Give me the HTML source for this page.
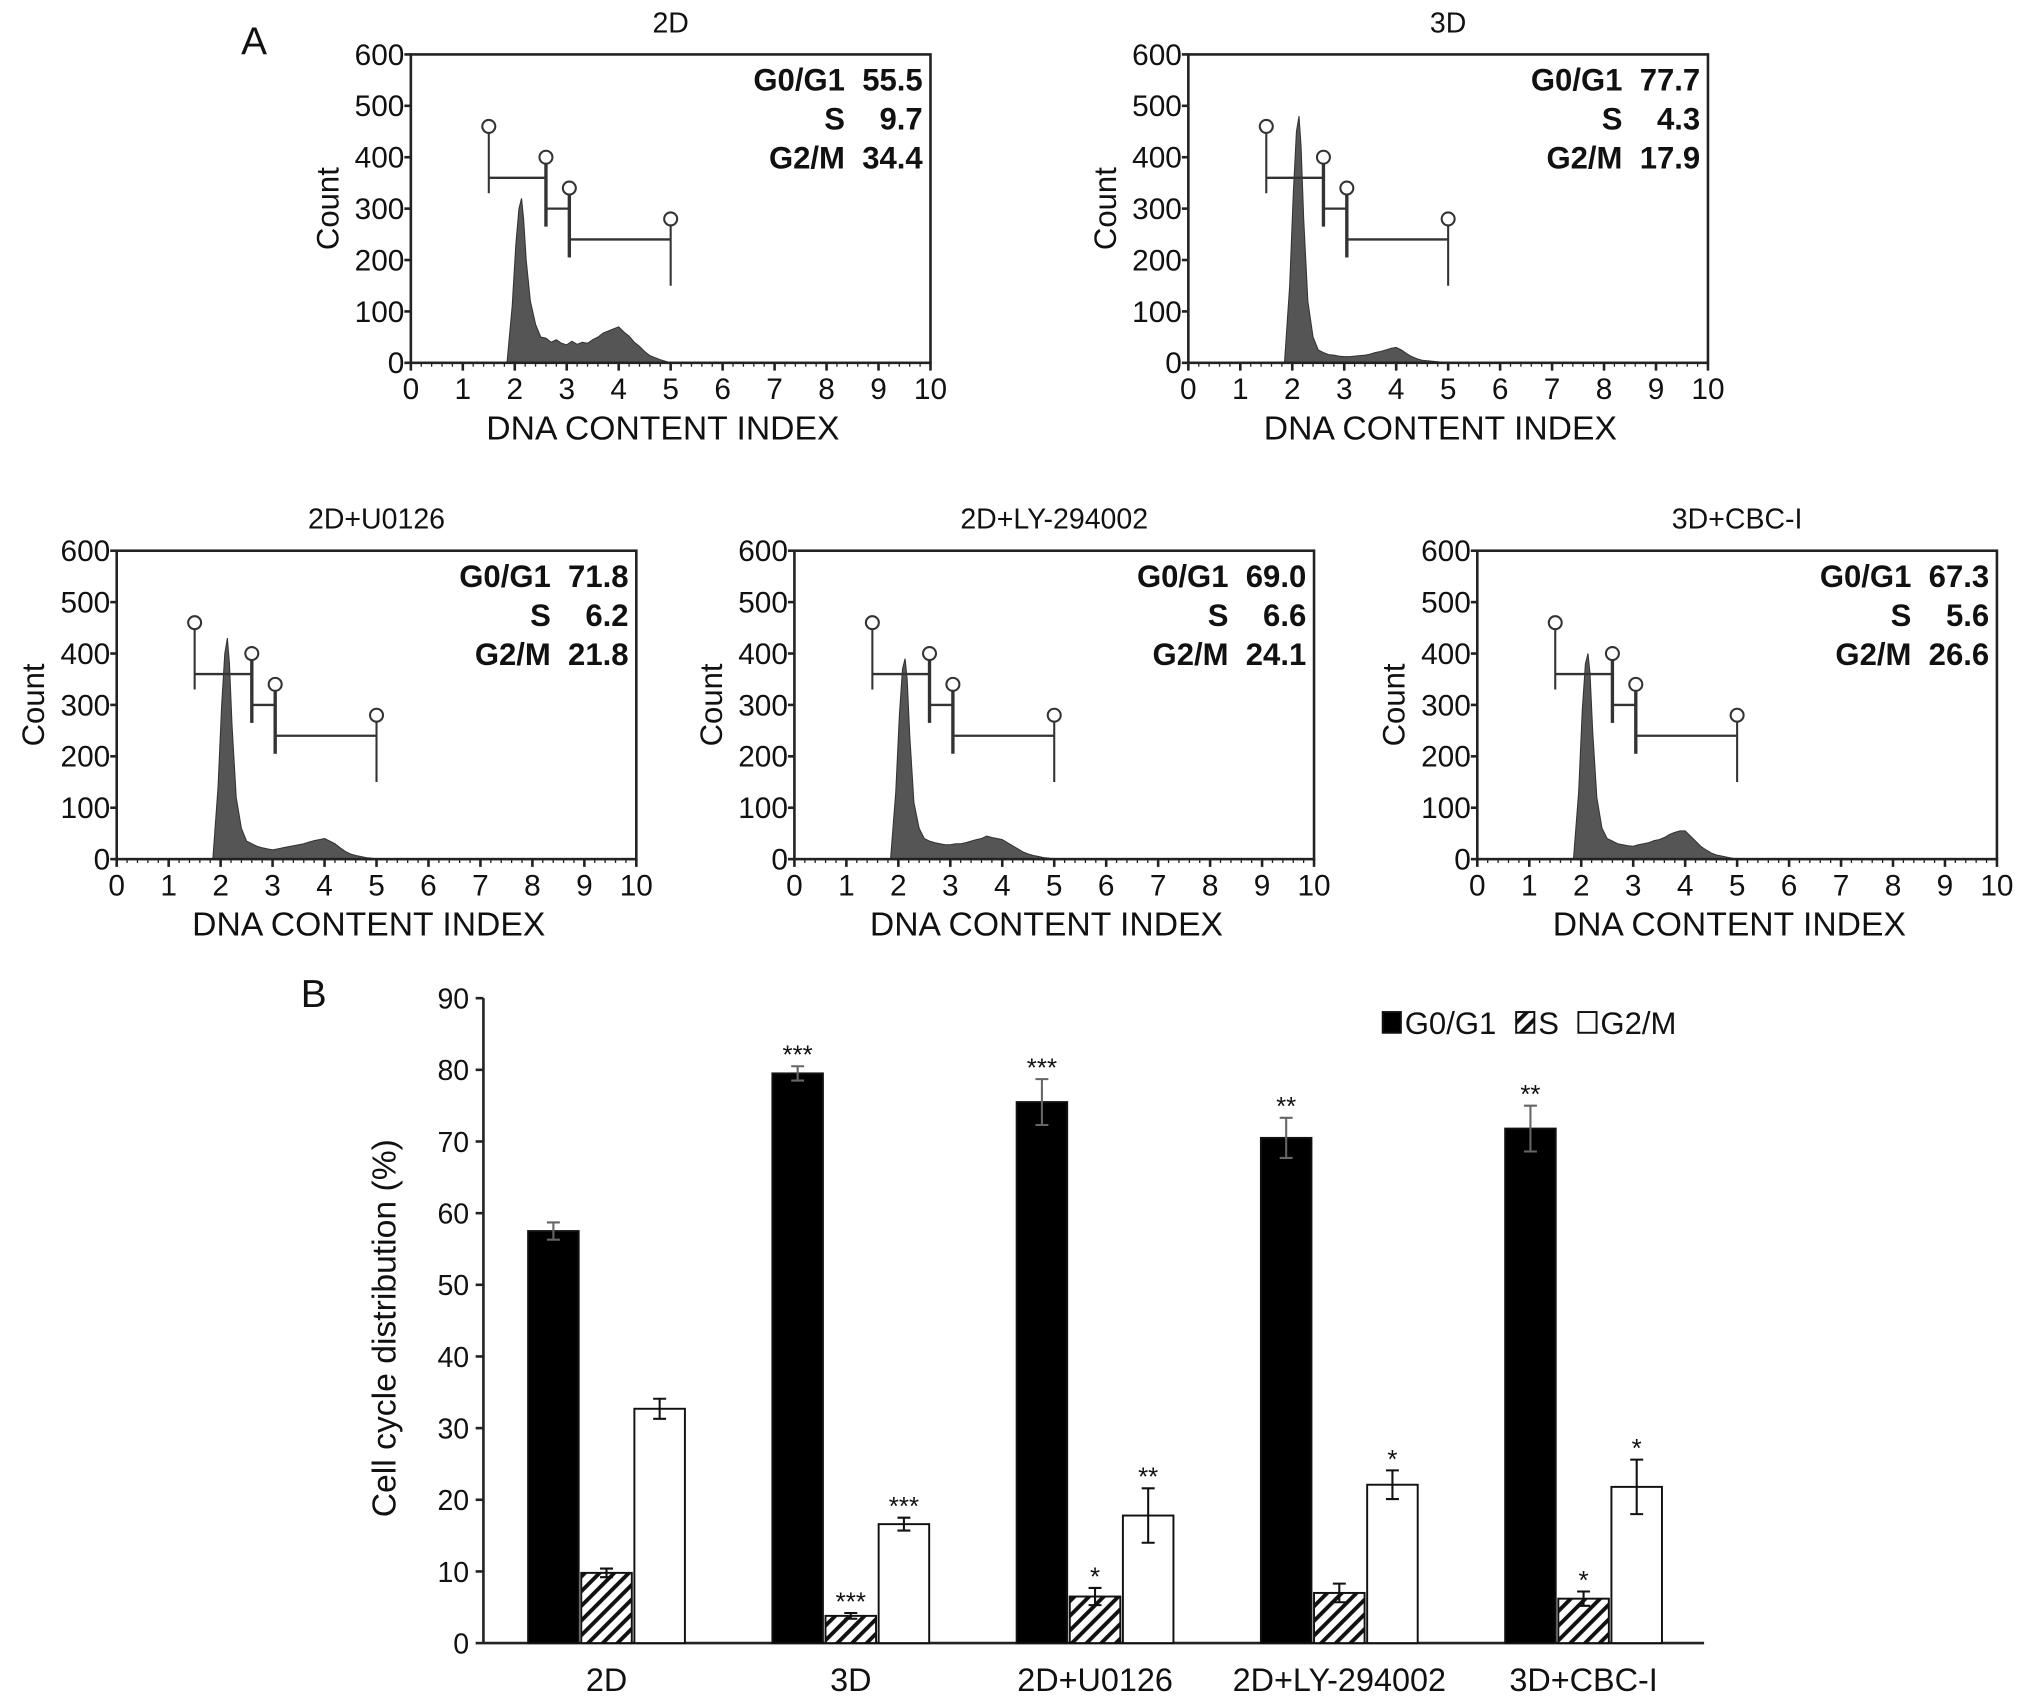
<!DOCTYPE html>
<html><head><meta charset="utf-8"><style>
html,body{margin:0;padding:0;background:#fff}
svg{display:block}
text{font-family:"Liberation Sans",Arial,sans-serif;fill:#111}
</style></head><body>
<svg id="fig" width="2032" height="1704" viewBox="0 0 1568 1315" xmlns="http://www.w3.org/2000/svg">
<defs><pattern id="hatch" patternUnits="userSpaceOnUse" width="8" height="8" patternTransform="rotate(45)"><rect width="8" height="8" fill="#fff"/><rect width="3" height="8" fill="#111"/></pattern></defs>
<text x="186" y="42" font-size="30">A</text>
<text x="232" y="777" font-size="30">B</text>
<g id="hists"></g>
<g id="bars"></g>
</svg>
<script>
const NS='http://www.w3.org/2000/svg';
function mk(tag,attrs,parent,txt){const e=document.createElementNS(NS,tag);for(const k in attrs)e.setAttribute(k,attrs[k]);if(txt!==undefined)e.textContent=txt;parent.appendChild(e);return e;}

// ---------- Panel A data ----------
const panelTitles=['2D','3D','2D+U0126','2D+LY-294002','3D+CBC-I'];
const g0Pct=['55.5','77.7','71.8','69.0','67.3'];
const sPct=['9.7','4.3','6.2','6.6','5.6'];
const g2Pct=['34.4','17.9','21.8','24.1','26.6'];
const histX=[1.85,1.95,2.02,2.08,2.13,2.17,2.22,2.3,2.4,2.5,2.6,2.7,2.8,2.9,3.0,3.1,3.2,3.3,3.4,3.5,3.6,3.7,3.8,3.9,4.0,4.1,4.2,4.3,4.4,4.5,4.6,4.7,4.8,4.9,5.0];
const hist2D=[0,110,230,300,320,280,200,120,75,50,48,40,45,38,35,42,36,40,38,45,50,58,62,66,70,60,52,40,32,22,14,10,6,3,0];
const hist3D=[0,150,330,450,480,420,280,120,50,25,20,16,15,13,12,12,13,14,15,17,20,22,25,28,30,25,18,12,8,5,4,3,2,1,0];
const histU=[0,140,300,400,430,380,260,120,60,35,30,25,22,20,18,20,22,24,26,28,30,33,36,38,40,35,30,22,15,10,7,5,3,2,0];
const histLY=[0,130,280,370,390,350,240,110,60,40,35,32,30,28,28,30,30,32,35,38,40,45,42,40,38,32,26,20,14,10,7,5,3,2,0];
const histCBC=[0,130,290,380,400,360,250,120,60,40,35,30,28,26,25,28,30,32,36,38,42,48,52,55,55,45,35,25,18,12,8,6,4,2,0];
const histSeries=[hist2D,hist3D,histU,histLY,histCBC];
const gateX=[1.5,2.6,3.05,5.0];
const gateTop=[460,400,340,280];
const gateBottom=[330,265,205,150];
const gateBar=[360,300,240];
const yTicksA=[0,100,200,300,400,500,600];
const xTicksA=[0,1,2,3,4,5,6,7,8,9,10];

const frames=[{l:317,t:42},{l:917,t:42},{l:90,t:425},{l:613,t:425},{l:1140,t:425}];
const FW=401,FH=238;
const hg=document.getElementById('hists');
frames.forEach((f,i)=>{
  const g=mk('g',{},hg);
  
  
  const sx=v=>f.l+v/10*FW, sy=v=>f.t+FH-v/600*FH;
  const tt=mk('text',{x:f.l+FW/2,y:f.t-17,'font-size':22,'text-anchor':'middle'},g,panelTitles[i]);
  
  let d='M'+sx(histX[0])+','+sy(0);
  histX.forEach((x,j)=>{d+=' L'+sx(x)+','+sy(histSeries[i][j]);});
  d+=' L'+sx(histX[histX.length-1])+','+sy(0)+'Z';
  const p=mk('path',{d:d,fill:'#555',stroke:'#333','stroke-width':0.8},g);
  
  const fr=mk('rect',{x:f.l,y:f.t,width:FW,height:FH,fill:'none',stroke:'#222','stroke-width':2},g);
  
  yTicksA.forEach(v=>{
    mk('line',{x1:f.l-5,x2:f.l,y1:sy(v),y2:sy(v),stroke:'#222','stroke-width':2},g);
    const t=mk('text',{x:f.l-5,y:sy(v)+8,'font-size':23,'text-anchor':'end'},g,v);
    
  });
  xTicksA.forEach(v=>{
    mk('line',{x1:sx(v),x2:sx(v),y1:f.t+FH,y2:f.t+FH+6,stroke:'#222','stroke-width':2},g);
    const t=mk('text',{x:sx(v),y:f.t+FH+28,'font-size':23,'text-anchor':'middle'},g,v);
    
  });
  for(let k=0;k<50;k++){mk('line',{x1:sx(k*0.2),x2:sx(k*0.2),y1:f.t+FH,y2:f.t+FH+3,stroke:'#222','stroke-width':1},g);}
  const xl=mk('text',{x:f.l+FW/2-6,y:f.t+FH+59,'font-size':26,'text-anchor':'middle'},g,'DNA CONTENT INDEX');
  
  const yl=mk('text',{x:0,y:0,'font-size':24,'text-anchor':'middle',transform:'translate('+(f.l-56)+','+(f.t+FH/2)+') rotate(-90)'},g,'Count');
  
  gateX.forEach((x,k)=>{
    mk('line',{x1:sx(x),x2:sx(x),y1:sy(gateTop[k])+5,y2:sy(gateBottom[k]),stroke:'#333','stroke-width':k===0||k===3?1.6:2.6},g);
    const c=mk('circle',{cx:sx(x),cy:sy(gateTop[k]),r:5,fill:'#fff',stroke:'#333','stroke-width':1.6},g);
    
    if(k<3) mk('line',{x1:sx(x),x2:sx(gateX[k+1]),y1:sy(gateBar[k]),y2:sy(gateBar[k]),stroke:'#333','stroke-width':1.8},g);
  });
  const rx=f.l+FW-6;
  [['G0/G1',g0Pct[i]],['S',sPct[i]],['G2/M',g2Pct[i]]].forEach((r,k)=>{
    const t1=mk('text',{x:rx-60,y:f.t+28+k*30,'font-size':24,'font-weight':'bold','text-anchor':'end'},g,r[0]);
    
    const t2=mk('text',{x:rx,y:f.t+28+k*30,'font-size':24,'font-weight':'bold','text-anchor':'end'},g,r[1]);
    
  });
});

// ---------- Panel B data ----------
const categories=['2D','3D','2D+U0126','2D+LY-294002','3D+CBC-I'];
const g0Vals=[57.5,79.5,75.5,70.5,71.8];
const g0Err=[1.2,1.0,3.2,2.8,3.2];
const sVals=[9.8,3.8,6.5,7.0,6.2];
const sErr=[0.6,0.4,1.2,1.3,1.0];
const g2Vals=[32.7,16.6,17.8,22.1,21.8];
const g2Err=[1.4,0.9,3.8,2.0,3.8];
const g0Stars=['','***','***','**','**'];
const sStars=['','***','*','','*'];
const g2Stars=['','***','**','*','*'];
const yTicksB=[0,10,20,30,40,50,60,70,80,90];

const bg=document.getElementById('bars');
const L=373,B0=1268,PX=5.53;
const yB=v=>B0-v*PX;
const grpX=i=>468+i*188.5;
mk('line',{x1:L,x2:1315,y1:B0,y2:B0,stroke:'#222','stroke-width':2},bg);
mk('line',{x1:L,x2:L,y1:yB(90),y2:B0,stroke:'#222','stroke-width':2},bg);
yTicksB.forEach(v=>{
  mk('line',{x1:L-6,x2:L,y1:yB(v),y2:yB(v),stroke:'#222','stroke-width':2},bg);
  const t=mk('text',{x:L-11,y:yB(v)+8,'font-size':22,'text-anchor':'end'},bg,v);
  
});
const ylb=mk('text',{x:0,y:0,'font-size':26,'text-anchor':'middle',transform:'translate(305,1025) rotate(-90)'},bg,'Cell cycle distribution (%)');

const series=[[g0Vals,g0Err,g0Stars,'#000','g0g1'],[sVals,sErr,sStars,'url(#hatch)','s'],[g2Vals,g2Err,g2Stars,'#fff','g2m']];
const BW=39;
categories.forEach((c,i)=>{
  const cl=mk('text',{x:grpX(i),y:1305,'font-size':25,'text-anchor':'middle'},bg,c);
  
  series.forEach((s,k)=>{
    const x=grpX(i)+(k-1)*41-BW/2;
    const v=s[0][i],e=s[1][i];
    const r=mk('rect',{x:x,y:yB(v),width:BW,height:B0-yB(v),fill:s[3],stroke:'#111','stroke-width':1.5},bg);
    
    const cx=x+BW/2;
    const eb=mk('path',{d:'M'+cx+','+yB(v+e)+' L'+cx+','+yB(v-e)+' M'+(cx-5)+','+yB(v+e)+' L'+(cx+5)+','+yB(v+e)+' M'+(cx-5)+','+yB(v-e)+' L'+(cx+5)+','+yB(v-e),stroke:k===0?'#666':'#111','stroke-width':1.6,fill:'none'},bg);
    
    if(s[2][i]){
      const st=mk('text',{x:cx,y:yB(v+e)-2,'font-size':20,'text-anchor':'middle'},bg,s[2][i]);
      
    }
  });
});
const lg=mk('g',{},bg);

[['#000','G0/G1',1067],['url(#hatch)','S',1170],['#fff','G2/M',1218]].forEach(l=>{
  const sw=mk('rect',{x:l[2],y:781,width:14,height:16,fill:l[0],stroke:'#111','stroke-width':1.5},lg);
  
  const t=mk('text',{x:l[2]+17,y:798,'font-size':24},lg,l[1]);
  
});
</script>
</body></html>
